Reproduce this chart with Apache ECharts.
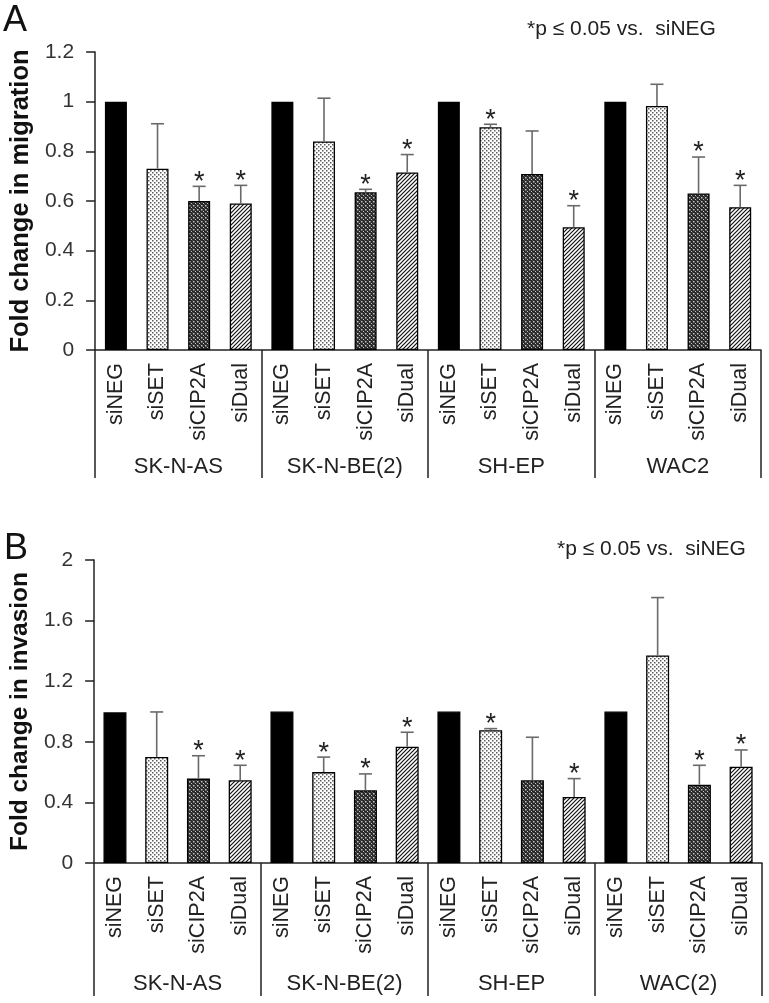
<!DOCTYPE html>
<html>
<head>
<meta charset="utf-8">
<script src="https://cdn.jsdelivr.net/npm/echarts@6/dist/echarts.min.js"></script>
<style>
html,body{margin:0;padding:0;background:#fff;}
#chart{width:769px;height:1003px;}
</style>
</head>
<body>
<div id="chart"></div>
<script>
// ---- data ----
const treatments = ['siNEG', 'siSET', 'siCIP2A', 'siDual'];
const cellLinesA = ['SK-N-AS', 'SK-N-BE(2)', 'SH-EP', 'WAC2'];
const cellLinesB = ['SK-N-AS', 'SK-N-BE(2)', 'SH-EP', 'WAC(2)'];
const migrationMean = [1.0, 0.73, 0.60, 0.59, 1.0, 0.84, 0.635, 0.715, 1.0, 0.897, 0.709, 0.494, 1.0, 0.983, 0.63, 0.575];
const migrationErr  = [0, 0.181, 0.059, 0.073, 0, 0.174, 0.012, 0.072, 0, 0.012, 0.173, 0.087, 0, 0.087, 0.147, 0.088];
const migrationSig  = [0, 0, 1, 1, 0, 0, 1, 1, 0, 1, 0, 1, 0, 0, 1, 1];
const invasionMean = [0.995, 0.70, 0.557, 0.546, 1.0, 0.60, 0.48, 0.768, 1.0, 0.876, 0.546, 0.436, 1.0, 1.37, 0.517, 0.636];
const invasionErr  = [0, 0.297, 0.151, 0.099, 0, 0.099, 0.108, 0.095, 0, 0.011, 0.284, 0.121, 0, 0.382, 0.128, 0.110];
const invasionSig  = [0, 0, 1, 1, 0, 1, 1, 1, 0, 1, 0, 1, 0, 0, 1, 1];
const yTicksA = {min: 0, max: 1.2, step: 0.2};
const yTicksB = {min: 0, max: 2, step: 0.4};

// ---- patterns ----
function mk(w, h, draw) {
  const c = document.createElement('canvas');
  c.width = w; c.height = h;
  const ctx = c.getContext('2d');
  draw(ctx, w, h);
  return {image: c, repeat: 'repeat'};
}
const patDots = mk(4, 4, (ctx, w, h) => {
  ctx.fillStyle = '#fff'; ctx.fillRect(0, 0, w, h);
  ctx.fillStyle = '#5a5a5a';
  ctx.fillRect(0, 0, 1.5, 1.5); ctx.fillRect(2, 2, 1.5, 1.5);
});
const patCross = mk(4, 4, (ctx, w, h) => {
  ctx.fillStyle = '#2a2a2a'; ctx.fillRect(0, 0, w, h);
  ctx.fillStyle = '#c4c4c4';
  ctx.fillRect(1, 1, 1.5, 1.5); ctx.fillRect(3, 3, 1, 1);
  ctx.fillRect(0, 0, 0.5, 0.5);
});
const patDiag = mk(4, 4, (ctx, w, h) => {
  ctx.fillStyle = '#fff'; ctx.fillRect(0, 0, w, h);
  ctx.strokeStyle = '#111'; ctx.lineWidth = 1.2;
  ctx.beginPath();
  ctx.moveTo(-w, h); ctx.lineTo(w, -h);
  ctx.moveTo(0, 2 * h); ctx.lineTo(2 * w, 0);
  ctx.moveTo(0, h); ctx.lineTo(w, 0);
  ctx.stroke();
});
const fills = ['#000', patDots, patCross, patDiag];

function cats(lines) {
  const out = [];
  lines.forEach(() => treatments.forEach(t => out.push(t)));
  return out;
}
function barData(mean) {
  return mean.map((v, i) => ({value: v, itemStyle: {color: fills[i % 4]}}));
}
function errData(mean, err, sig) {
  return mean.map((v, i) => [i, v, err[i], sig[i]]);
}
function renderErr(params, api) {
  const x = api.value(0), m = api.value(1), e = api.value(2), s = api.value(3);
  const base = api.coord([x, m]);
  const top = api.coord([x, m + e]);
  const ch = [];
  const ls = {stroke: '#6a6a6a', lineWidth: 1.6};
  if (e > 0) {
    ch.push({type: 'line', shape: {x1: base[0], y1: base[1], x2: top[0], y2: top[1]}, style: ls});
    ch.push({type: 'line', shape: {x1: top[0] - 6.5, y1: top[1], x2: top[0] + 6.5, y2: top[1]}, style: ls});
  }
  if (s) {
    ch.push({type: 'text', style: {text: '*', x: top[0], y: top[1] - 4, align: 'center', verticalAlign: 'middle',
      font: '27px "Liberation Sans", Arial, sans-serif', fill: '#222'}});
  }
  return {type: 'group', children: ch};
}

const fontFam = '"Liberation Sans", Arial, sans-serif';
const axisCol = '#222';

function xAxes(gridIndex, lines, tickLen, labelMargin) {
  return [
    {type: 'category', gridIndex, data: cats(lines),
      axisLine: {lineStyle: {color: axisCol, width: 1.5}},
      axisTick: {show: false},
      axisLabel: {interval: 0, rotate: 90, margin: 13, fontSize: 21.5, color: '#222', fontFamily: fontFam}},
    {type: 'category', gridIndex, data: lines, position: 'bottom',
      axisLine: {show: false},
      axisTick: {show: true, interval: 0, length: tickLen, lineStyle: {color: axisCol, width: 1.5}},
      axisLabel: {interval: 0, margin: labelMargin, fontSize: 22, color: '#222', fontFamily: fontFam}}
  ];
}
function yAxis(gridIndex, t, name, gap, nameSize) {
  return {type: 'value', gridIndex, min: t.min, max: t.max, interval: t.step,
    splitLine: {show: false},
    axisLine: {show: true, lineStyle: {color: axisCol, width: 1.5}},
    axisTick: {show: true, length: 9, lineStyle: {color: axisCol, width: 1.5}},
    axisLabel: {margin: 21, fontSize: 21, color: '#333', fontFamily: fontFam},
    name, nameLocation: 'middle', nameGap: gap,
    nameTextStyle: {fontSize: nameSize, fontWeight: 'bold', color: '#111', fontFamily: fontFam}};
}

const option = {
  animation: false,
  backgroundColor: '#fff',
  grid: [
    {left: 88, top: 52, width: 673, height: 298},
    {left: 93, top: 560, width: 669, height: 303}
  ],
  xAxis: [...xAxes(0, cellLinesA, 128, 106), ...xAxes(1, cellLinesB, 133, 110)],
  yAxis: [yAxis(0, yTicksA, 'Fold change in migration', 53, 25.5), yAxis(1, yTicksB, 'Fold change in invasion', 60, 24.5)],
  graphic: [
    {type: 'text', left: 3, top: 3, style: {text: 'A', font: '36px ' + fontFam, fill: '#111'}},
    {type: 'text', left: 4, top: 531, style: {text: 'B', font: '36px ' + fontFam, fill: '#111'}},
    {type: 'text', left: 527, top: 19, style: {text: '*p ≤ 0.05 vs.  siNEG', font: '21px ' + fontFam, fill: '#222'}},
    {type: 'text', left: 557, top: 539, style: {text: '*p ≤ 0.05 vs.  siNEG', font: '21px ' + fontFam, fill: '#222'}}
  ],
  series: [
    {type: 'bar', xAxisIndex: 0, yAxisIndex: 0, barWidth: 22, data: barData(migrationMean),
      itemStyle: {borderColor: '#000', borderWidth: 1.3}},
    {type: 'custom', xAxisIndex: 0, yAxisIndex: 0, renderItem: renderErr, data: errData(migrationMean, migrationErr, migrationSig), z: 5},
    {type: 'bar', xAxisIndex: 2, yAxisIndex: 1, barWidth: 23, data: barData(invasionMean),
      itemStyle: {borderColor: '#000', borderWidth: 1.3}},
    {type: 'custom', xAxisIndex: 2, yAxisIndex: 1, renderItem: renderErr, data: errData(invasionMean, invasionErr, invasionSig), z: 5}
  ]
};
const chart = echarts.init(document.getElementById('chart'), null, {renderer: 'canvas'});
chart.setOption(option);
</script>
</body>
</html>
